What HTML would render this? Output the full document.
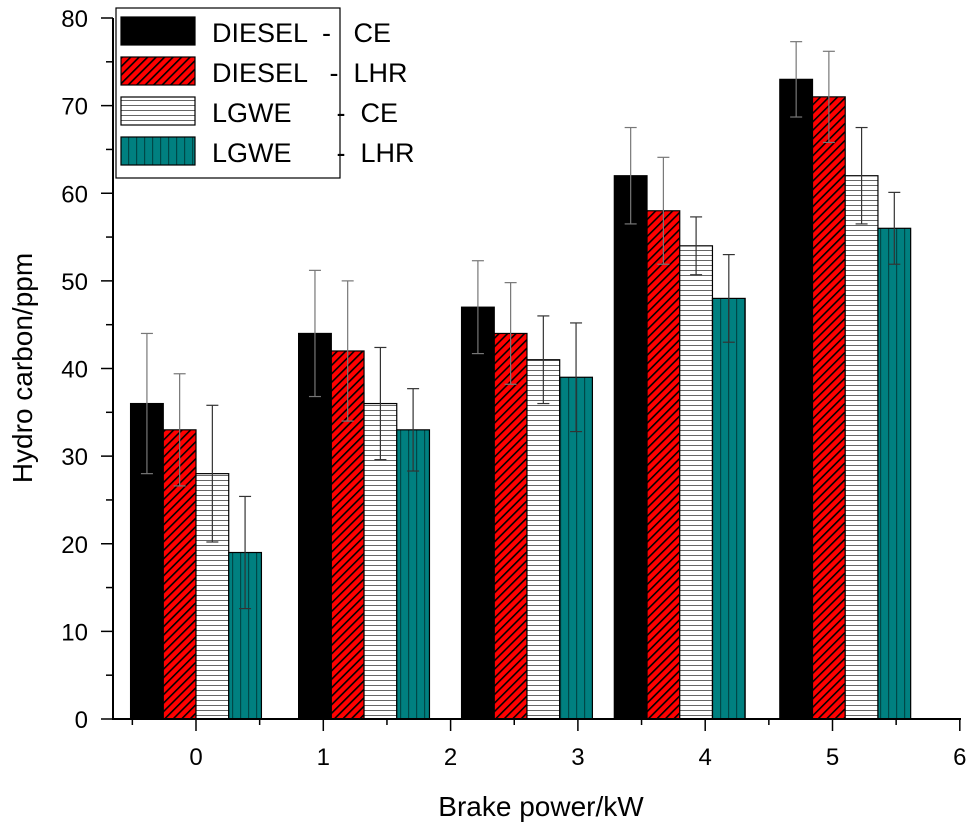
<!DOCTYPE html>
<html><head><meta charset="utf-8"><style>
body{margin:0;background:#fff;}
svg text{font-family:"Liberation Sans",Arial,sans-serif;}
.pre{white-space:pre;}
</style></head><body>
<svg id="chart" width="969" height="828" viewBox="0 0 969 828" xmlns="http://www.w3.org/2000/svg">
<defs>
<pattern id="pRed" patternUnits="userSpaceOnUse" width="6" height="6" patternTransform="rotate(45)">
<rect width="6" height="6" fill="#ff0000"/><rect x="0" y="0" width="1.6" height="6" fill="#000"/></pattern>
<pattern id="pWhite" patternUnits="userSpaceOnUse" width="6" height="5">
<rect width="6" height="5" fill="#fff"/><rect x="0" y="0" width="6" height="1" fill="#666"/></pattern>
<pattern id="pTeal" patternUnits="userSpaceOnUse" width="8" height="6">
<rect width="8" height="6" fill="#008080"/><rect x="0" y="0" width="1.2" height="6" fill="#004848"/></pattern>
</defs>
<g id="bars"></g>
<g id="axes"></g>
<g id="legend"></g>
</svg>
<script>
const categoryPositions = [0, 1.32, 2.6, 3.8, 5.1];
const seriesNames = ["DIESEL  -   CE", "DIESEL   -  LHR", "LGWE      -  CE", "LGWE      -  LHR"];
const dieselCE = [36, 44, 47, 62, 73];
const dieselLHR = [33, 42, 44, 58, 71];
const lgweCE = [28, 36, 41, 54, 62];
const lgweLHR = [19, 33, 39, 48, 56];
const dieselCEErr = [8, 7.2, 5.3, 5.5, 4.3];
const dieselLHRErr = [6.4, 8, 5.8, 6.1, 5.2];
const lgweCEErr = [7.8, 6.4, 5, 3.3, 5.5];
const lgweLHRErr = [6.4, 4.7, 6.2, 5, 4.1];
const xTickLabels = ["0","1","2","3","4","5","6"];
const yTickLabels = ["0","10","20","30","40","50","60","70","80"];

const NS = "http://www.w3.org/2000/svg";
const X0 = 196, XS = 127.3, Y0 = 719, YS = 8.7625;
const xs = v => X0 + v * XS;
const ys = v => Y0 - v * YS;
const BW = 0.257;
function mk(tag, attrs, parent){const e=document.createElementNS(NS,tag);for(const k in attrs)e.setAttribute(k,attrs[k]);parent.appendChild(e);return e;}
const series = [
 {vals: dieselCE, err: dieselCEErr, fill: "#000", name: "diesel-ce"},
 {vals: dieselLHR, err: dieselLHRErr, fill: "url(#pRed)", name: "diesel-lhr"},
 {vals: lgweCE, err: lgweCEErr, fill: "url(#pWhite)", name: "lgwe-ce"},
 {vals: lgweLHR, err: lgweLHRErr, fill: "url(#pTeal)", name: "lgwe-lhr"}
];
const barsG = document.getElementById("bars");
series.forEach((s, si) => {
  s.vals.forEach((v, i) => {
    const left = xs(categoryPositions[i] + (si - 2) * BW);
    const w = BW * XS;
    const r = mk("rect", {x: left, y: ys(v), width: w, height: ys(0) - ys(v), fill: s.fill, stroke: "#000", "stroke-width": 1.2}, barsG);
    
    
    const cx = left + w / 2;
    const eg = mk("g", {stroke: si >= 2 ? "#333" : "#777", "stroke-width": 1.2}, barsG);
    
    
    const hi = ys(v + s.err[i]), lo = ys(v - s.err[i]);
    mk("line", {x1: cx, x2: cx, y1: hi, y2: lo}, eg);
    mk("line", {x1: cx - 6, x2: cx + 6, y1: hi, y2: hi}, eg);
    mk("line", {x1: cx - 6, x2: cx + 6, y1: lo, y2: lo}, eg);
  });
});
const ax = document.getElementById("axes");
const yAxis = mk("line", {x1: 113, x2: 113, y1: 18, y2: Y0, stroke: "#000", "stroke-width": 2}, ax);


const xAxis = mk("line", {x1: 112, x2: 961, y1: Y0, y2: Y0, stroke: "#000", "stroke-width": 2}, ax);


yTickLabels.forEach((t, i) => {
  const v = i * 10, y = ys(v);
  mk("line", {x1: 101, x2: 113, y1: y, y2: y, stroke: "#000", "stroke-width": 1.5}, ax);
  if (i < yTickLabels.length - 1) mk("line", {x1: 106, x2: 113, y1: ys(v + 5), y2: ys(v + 5), stroke: "#000", "stroke-width": 1.5}, ax);
  const tx = mk("text", {x: 88, y: y + 9, "font-size": 24, "text-anchor": "end"}, ax);
  tx.textContent = t;
  
  
});
xTickLabels.forEach((t, i) => {
  const x = xs(i);
  mk("line", {x1: x, x2: x, y1: Y0, y2: Y0 + 12, stroke: "#000", "stroke-width": 1.5}, ax);
  mk("line", {x1: xs(i - 0.5), x2: xs(i - 0.5), y1: Y0, y2: Y0 + 6, stroke: "#000", "stroke-width": 1.5}, ax);
  const tx = mk("text", {x: x, y: Y0 + 46, "font-size": 24, "text-anchor": "middle"}, ax);
  tx.textContent = t;
  
  
});
const yt = mk("text", {x: 0, y: 0, "font-size": 28, "text-anchor": "middle", transform: "translate(32,368) rotate(-90)"}, ax);
yt.textContent = "Hydro carbon/ppm";


const xt = mk("text", {x: 541, y: 816, "font-size": 28, "text-anchor": "middle"}, ax);
xt.textContent = "Brake power/kW";


const lg = document.getElementById("legend");
mk("rect", {x: 116, y: 8, width: 224, height: 170, fill: "#fff", stroke: "#000", "stroke-width": 1.2}, lg);
series.forEach((s, si) => {
  const y = 17 + si * 40;
  const sw = mk("rect", {x: 121, y: y, width: 74, height: 28, fill: s.fill, stroke: "#000", "stroke-width": 1.2}, lg);
  
  
  const t = mk("text", {x: 212, y: y + 25, "font-size": 27, "class": "pre"}, lg);
  t.textContent = seriesNames[si];
  
  
});
</script>
</body></html>
